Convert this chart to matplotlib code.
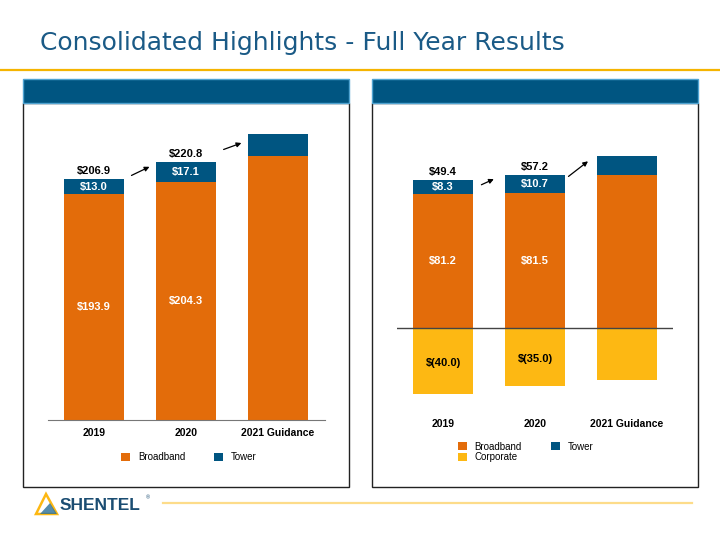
import matplotlib
matplotlib.use("Agg")
import matplotlib.pyplot as plt
from matplotlib.patches import Rectangle, Polygon
import numpy as np

# data (in $ millions)
categories = ["2019", "2020", "2021 Guidance"]

rev_broadband = [193.9, 204.3, 226.6]
rev_tower = [13.0, 17.1, 19.0]
rev_total_labels = ["$206.9", "$220.8", ""]
rev_broadband_labels = ["$193.9", "$204.3", ""]
rev_tower_labels = ["$13.0", "$17.1", ""]

ebitda_broadband = [81.2, 81.5, 92.5]
ebitda_tower = [8.3, 10.7, 11.3]
ebitda_corporate = [-40.0, -35.0, -31.4]
ebitda_total_labels = ["$49.4", "$57.2", ""]
ebitda_broadband_labels = ["$81.2", "$81.5", ""]
ebitda_tower_labels = ["$8.3", "$10.7", ""]
ebitda_corporate_labels = ["$(40.0)", "$(35.0)", ""]

ORANGE = "#e36c0a"
NAVY = "#005581"
GOLD = "#fdb813"
TITLE_BLUE = "#1a5a86"
FONT = "Liberation Sans"

W, H = 720, 540
fig = plt.figure(figsize=(7.2, 5.4), dpi=100)


def px_rect(x0, y0, x1, y1):
    # pixel box (top-left origin) -> figure fraction rect
    return [x0 / W, 1 - y1 / H, (x1 - x0) / W, (y1 - y0) / H]


# title and rule
fig.text(40 / W, 1 - 50 / H, "Consolidated Highlights - Full Year Results",
         fontsize=18, color=TITLE_BLUE, family="DejaVu Sans", va="baseline")
fig.add_artist(plt.Line2D([0, 1], [1 - 70 / H] * 2, color="#f5b400", lw=1.6))

# panel frames + header bars
for x0, x1 in [(23, 349), (372, 698)]:
    fig.add_artist(Rectangle((x0 / W, 1 - 487 / H), (x1 - x0) / W, (487 - 103) / H,
                             transform=fig.transFigure, fill=False,
                             edgecolor="#222222", lw=1.0))
    fig.add_artist(Rectangle((x0 / W, 1 - 103 / H), (x1 - x0) / W, 24 / H,
                             transform=fig.transFigure, facecolor=NAVY,
                             edgecolor="#4fa3d1", lw=1.0))

x = np.arange(len(categories))
bw = 0.65
lbl = dict(ha="center", va="center", fontsize=8, fontweight="bold", family=FONT)

# ---- left chart: revenue ----
ax1 = fig.add_axes(px_rect(48, 105, 325, 420))
ax1.bar(x, rev_broadband, bw, color=ORANGE, label="Broadband")
ax1.bar(x, rev_tower, bw, bottom=rev_broadband, color=NAVY, label="Tower")
ax1.set_xlim(-0.5, 2.51)
ax1.set_ylim(0, 270.4)
rev_total = np.add(rev_broadband, rev_tower)
for i in x:
    ax1.text(i, rev_broadband[i] / 2, rev_broadband_labels[i], color="white", **lbl)
    ax1.text(i, rev_broadband[i] + rev_tower[i] / 2, rev_tower_labels[i], color="white", **lbl)
    ax1.text(i, rev_total[i] + 7, rev_total_labels[i], color="black", **lbl)
for i in range(2):
    ax1.annotate("", xy=(i + 0.63, rev_total[i + 1] - 3 - 4 * i),
                 xytext=(i + 0.38, rev_total[i] + 2 + 8 * i),
                 arrowprops=dict(arrowstyle="-|>", color="black", lw=0.9,
                                 mutation_scale=7))

# ---- right chart: adjusted EBITDA ----
ax2 = fig.add_axes(px_rect(397, 105, 673, 420))
ax2.bar(x, ebitda_broadband, bw, color=ORANGE, label="Broadband")
ax2.bar(x, ebitda_tower, bw, bottom=ebitda_broadband, color=NAVY, label="Tower")
ax2.bar(x, ebitda_corporate, bw, color=GOLD, label="Corporate")
ax2.axhline(0, color="#444444", lw=1.0)
ax2.set_xlim(-0.5, 2.5)
ax2.set_ylim(-55.6, 134.8)
eb_top = np.add(ebitda_broadband, ebitda_tower)
for i in x:
    ax2.text(i, ebitda_broadband[i] / 2, ebitda_broadband_labels[i], color="white", **lbl)
    ax2.text(i, ebitda_broadband[i] + ebitda_tower[i] / 2, ebitda_tower_labels[i], color="white", **lbl)
    ax2.text(i, eb_top[i] + 5, ebitda_total_labels[i], color="black", **lbl)
    ax2.text(i, ebitda_corporate[i] / 2 - 1, ebitda_corporate_labels[i], color="black", **lbl)
for i in range(2):
    ax2.annotate("", xy=(i + 0.58 + 0.02 * i, eb_top[i + 1] - 1.5 - 0.5 * i),
                 xytext=(i + 0.39 - 0.05 * i, eb_top[i] - 3.6 + 2 * i),
                 arrowprops=dict(arrowstyle="-|>", color="black", lw=0.9,
                                 mutation_scale=7))

for ax in (ax1, ax2):
    for s in ax.spines.values():
        s.set_visible(False)
    ax.set_yticks([])
    ax.set_xticks(x)
    ax.set_xticklabels(categories, fontsize=7.5, fontweight="bold", family=FONT)
    ax.tick_params(axis="x", length=0, pad=6)
    ax.patch.set_alpha(0)

ax1.spines["bottom"].set_visible(True)
ax1.spines["bottom"].set_color("#777777")
ax2.tick_params(axis="x", pad=-1)

# legends
leg_kw = dict(frameon=False, handlelength=0.9, handleheight=0.9, handletextpad=0.8,
              prop={"family": FONT, "size": 7}, borderaxespad=0, labelspacing=0.1)
h, l = ax1.get_legend_handles_labels()
fig.legend(h, l, loc="center", bbox_to_anchor=(189 / W, 1 - 457 / H), ncol=2,
           columnspacing=3.0, **leg_kw)
h, l = ax2.get_legend_handles_labels()
order = [0, 2, 1]
fig.legend([h[k] for k in order], [l[k] for k in order], loc="center",
           bbox_to_anchor=(525.5 / W, 1 - 452 / H), ncol=2, columnspacing=3.0, **leg_kw)

# footer: logo and rule
tri = Polygon([(36 / W, 1 - 514 / H), (46 / W, 1 - 494 / H), (57 / W, 1 - 514 / H)],
              closed=True, transform=fig.transFigure, facecolor="none",
              edgecolor=GOLD, lw=1.8)
fig.add_artist(tri)
fig.add_artist(Polygon([(40 / W, 1 - 514 / H), (50 / W, 1 - 503 / H), (57 / W, 1 - 514 / H)],
                       closed=True, transform=fig.transFigure, facecolor="#2a6f97",
                       edgecolor="none", alpha=0.8))
fig.text(60 / W, 1 - 505 / H, "SHENTEL", fontsize=12.5, fontweight="bold",
         color="#1b4d72", family=FONT, va="center")
fig.text(146 / W, 1 - 498 / H, "®", fontsize=4, color="#1b4d72", family=FONT, va="center")
fig.add_artist(plt.Line2D([163 / W, 692 / W], [1 - 503 / H] * 2, color="#fddc8a", lw=1.6))

fig.savefig("out.png", dpi=100)
